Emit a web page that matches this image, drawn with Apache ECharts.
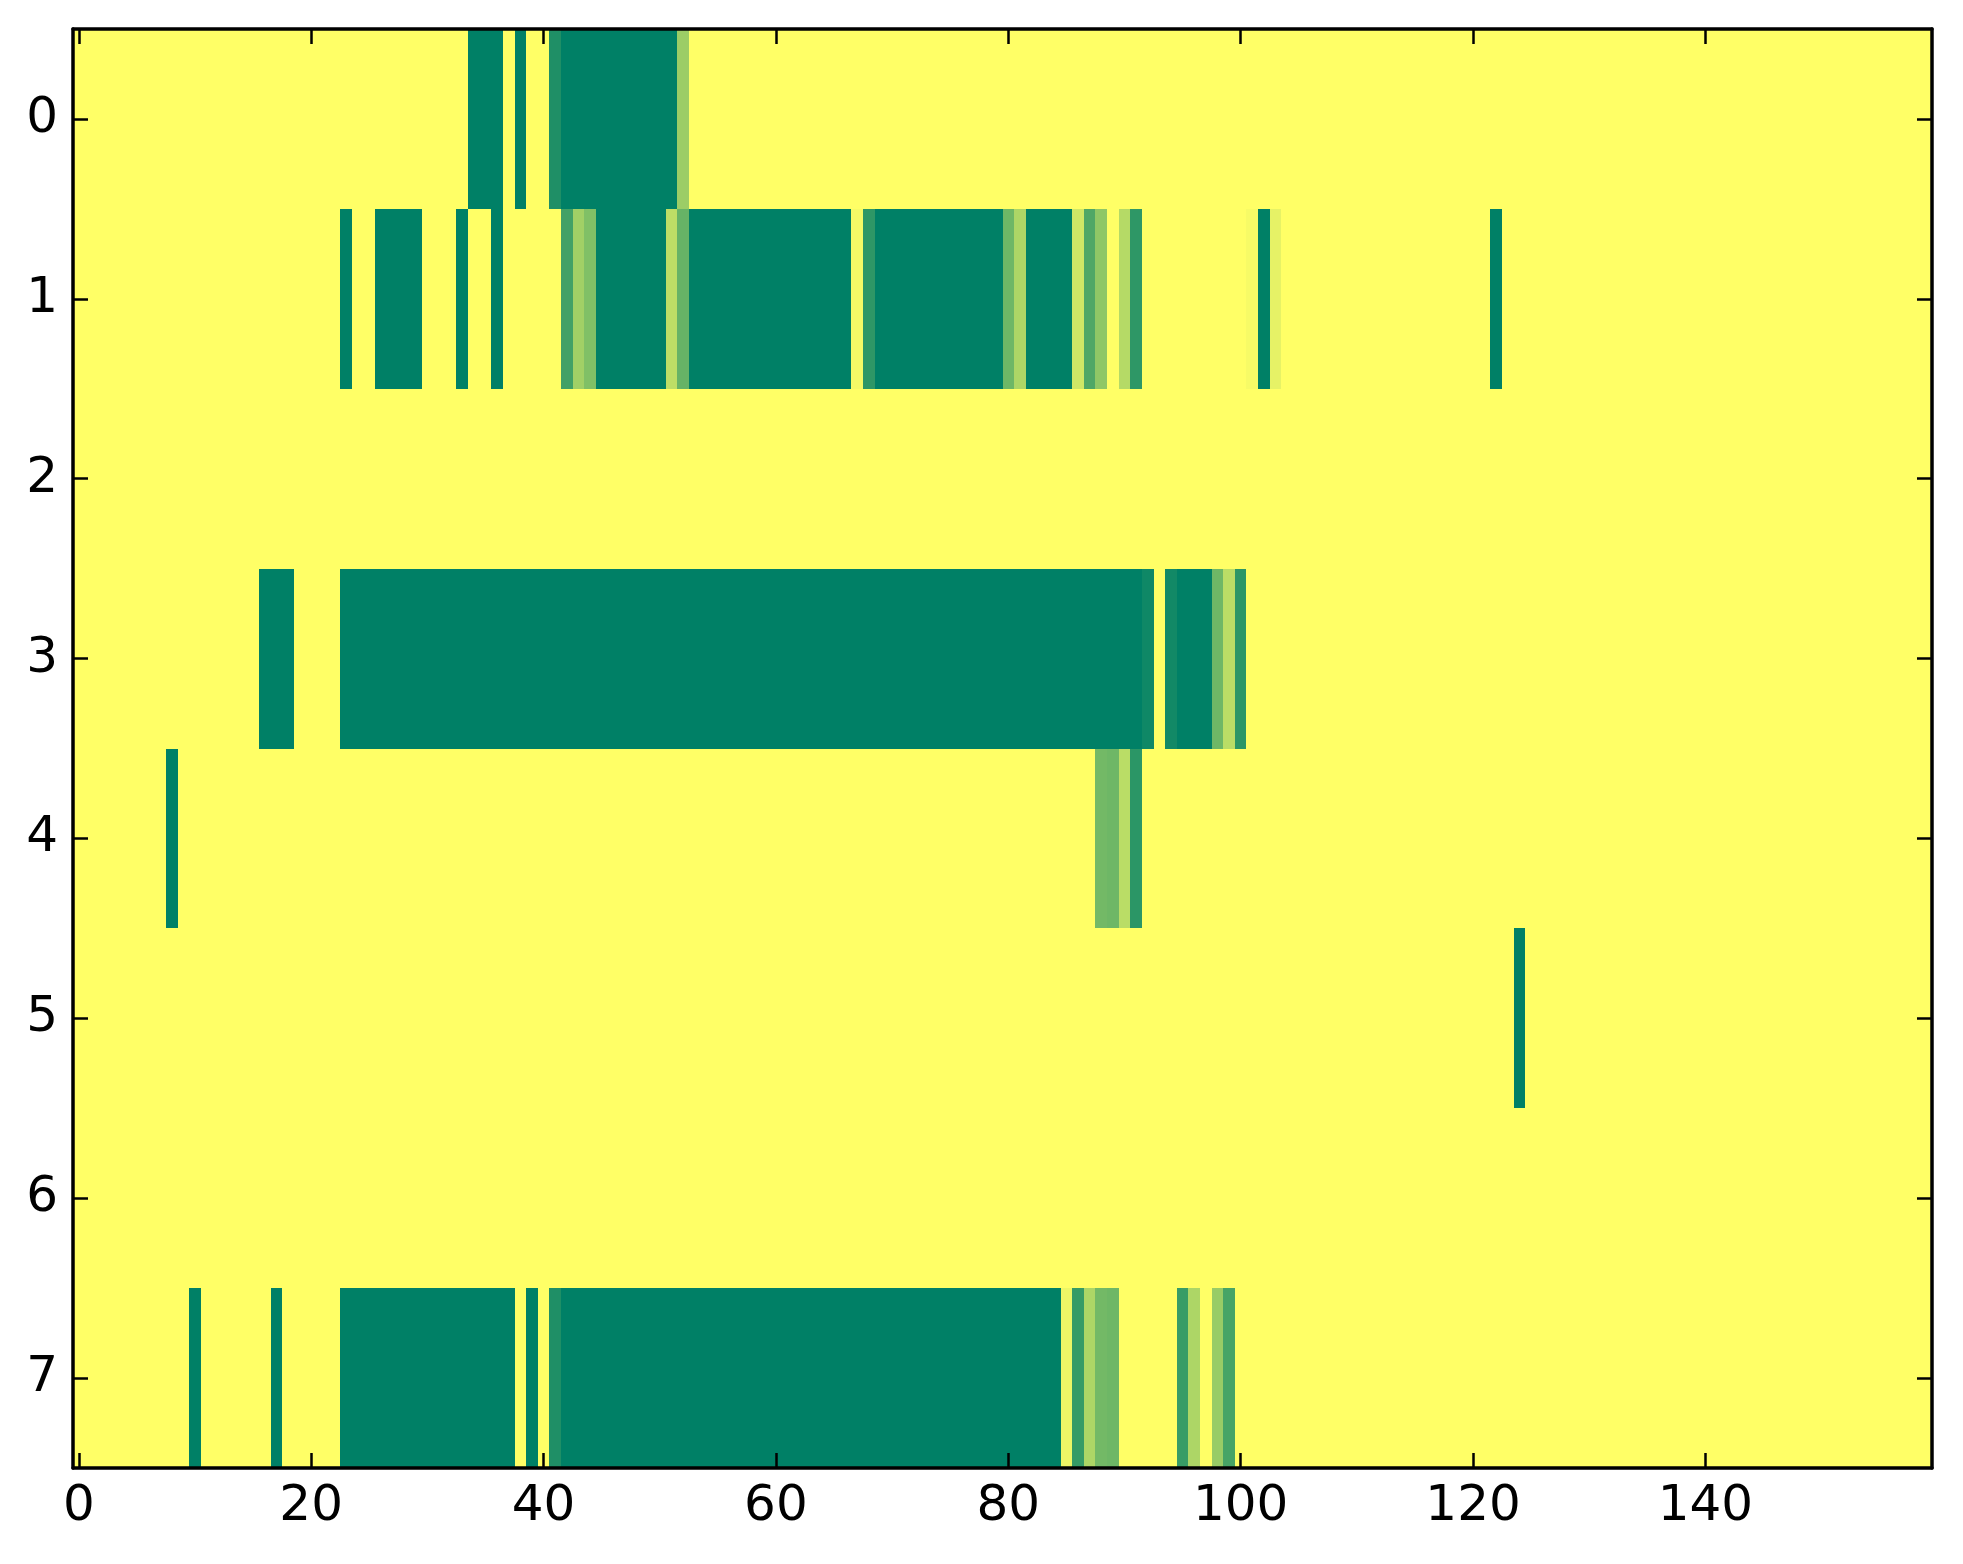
<!DOCTYPE html>
<html>
<head>
<meta charset="utf-8">
<script src="https://cdn.jsdelivr.net/npm/echarts@6/dist/echarts.min.js"></script>
<style>
html,body{margin:0;padding:0;background:#fff;}
#chart{width:1963px;height:1564px;}
</style>
</head>
<body>
<div id="chart"></div>
<script>
// Column categories 0..159 and row categories 0..7
var xCategories = [];
for (var i = 0; i < 160; i++) xCategories.push(String(i));
var yCategories = ['0','1','2','3','4','5','6','7'];

// Cell values per row (0 = green, 1 = yellow), 160 columns each
var row0 = [
1,1,1,1,1,1,1,1,1,1,1,1,1,1,1,1,1,1,1,1,
1,1,1,1,1,1,1,1,1,1,1,1,1,1,0,0,0,1,0,1,
1,0.12,0,0,0,0,0,0,0,0,0,0,0.61,1,1,1,1,1,1,1,
1,1,1,1,1,1,1,1,1,1,1,1,1,1,1,1,1,1,1,1,
1,1,1,1,1,1,1,1,1,1,1,1,1,1,1,1,1,1,1,1,
1,1,1,1,1,1,1,1,1,1,1,1,1,1,1,1,1,1,1,1,
1,1,1,1,1,1,1,1,1,1,1,1,1,1,1,1,1,1,1,1,
1,1,1,1,1,1,1,1,1,1,1,1,1,1,1,1,1,1,1,1
];
var row1 = [
1,1,1,1,1,1,1,1,1,1,1,1,1,1,1,1,1,1,1,1,
1,1,1,0,1,1,0,0,0,0,1,1,1,0,1,1,0,1,1,1,
1,1,0.26,0.63,0.5,0,0,0,0,0,0,0.74,0.4,0,0,0,0,0,0,0,
0,0,0,0,0,0,0,0.96,0.18,0,0,0,0,0,0,0,0,0,0,0,
0.43,0.68,0,0,0,0,0.81,0.31,0.56,1,0.71,0.18,1,1,1,1,1,1,1,1,
1,0.97,0,0.9,1,1,1,1,1,1,1,1,1,1,1,1,1,1,1,1,
1,1,0,1,1,1,1,1,1,1,1,1,1,1,1,1,1,1,1,1,
1,1,1,1,1,1,1,1,1,1,1,1,1,1,1,1,1,1,1,1
];
var row2 = [
1,1,1,1,1,1,1,1,1,1,1,1,1,1,1,1,1,1,1,1,
1,1,1,1,1,1,1,1,1,1,1,1,1,1,1,1,1,1,1,1,
1,1,1,1,1,1,1,1,1,1,1,1,1,1,1,1,1,1,1,1,
1,1,1,1,1,1,1,1,1,1,1,1,1,1,1,1,1,1,1,1,
1,1,1,1,1,1,1,1,1,1,1,1,1,1,1,1,1,1,1,1,
1,1,1,1,1,1,1,1,1,1,1,1,1,1,1,1,1,1,1,1,
1,1,1,1,1,1,1,1,1,1,1,1,1,1,1,1,1,1,1,1,
1,1,1,1,1,1,1,1,1,1,1,1,1,1,1,1,1,1,1,1
];
var row3 = [
1,1,1,1,1,1,1,1,1,1,1,1,1,1,1,1,0,0,0,1,
1,1,1,0,0,0,0,0,0,0,0,0,0,0,0,0,0,0,0,0,
0,0,0,0,0,0,0,0,0,0,0,0,0,0,0,0,0,0,0,0,
0,0,0,0,0,0,0,0,0,0,0,0,0,0,0,0,0,0,0,0,
0,0,0,0,0,0,0,0,0,0,0,0,0.06,1,0.07,0,0,0,0.43,0.73,
0.17,1,1,1,1,1,1,1,1,1,1,1,1,1,1,1,1,1,1,1,
1,1,1,1,1,1,1,1,1,1,1,1,1,1,1,1,1,1,1,1,
1,1,1,1,1,1,1,1,1,1,1,1,1,1,1,1,1,1,1,1
];
var row4 = [
1,1,1,1,1,1,1,1,0,1,1,1,1,1,1,1,1,1,1,1,
1,1,1,1,1,1,1,1,1,1,1,1,1,1,1,1,1,1,1,1,
1,1,1,1,1,1,1,1,1,1,1,1,1,1,1,1,1,1,1,1,
1,1,1,1,1,1,1,1,1,1,1,1,1,1,1,1,1,1,1,1,
1,1,1,1,1,1,1,1,0.45,0.43,0.73,0.17,1,1,1,1,1,1,1,1,
1,1,1,1,1,1,1,1,1,1,1,1,1,1,1,1,1,1,1,1,
1,1,1,1,1,1,1,1,1,1,1,1,1,1,1,1,1,1,1,1,
1,1,1,1,1,1,1,1,1,1,1,1,1,1,1,1,1,1,1,1
];
var row5 = [
1,1,1,1,1,1,1,1,1,1,1,1,1,1,1,1,1,1,1,1,
1,1,1,1,1,1,1,1,1,1,1,1,1,1,1,1,1,1,1,1,
1,1,1,1,1,1,1,1,1,1,1,1,1,1,1,1,1,1,1,1,
1,1,1,1,1,1,1,1,1,1,1,1,1,1,1,1,1,1,1,1,
1,1,1,1,1,1,1,1,1,1,1,1,1,1,1,1,1,1,1,1,
1,1,1,1,1,1,1,1,1,1,1,1,1,1,1,1,1,1,1,1,
1,1,1,1,0,1,1,1,1,1,1,1,1,1,1,1,1,1,1,1,
1,1,1,1,1,1,1,1,1,1,1,1,1,1,1,1,1,1,1,1
];
var row6 = [
1,1,1,1,1,1,1,1,1,1,1,1,1,1,1,1,1,1,1,1,
1,1,1,1,1,1,1,1,1,1,1,1,1,1,1,1,1,1,1,1,
1,1,1,1,1,1,1,1,1,1,1,1,1,1,1,1,1,1,1,1,
1,1,1,1,1,1,1,1,1,1,1,1,1,1,1,1,1,1,1,1,
1,1,1,1,1,1,1,1,1,1,1,1,1,1,1,1,1,1,1,1,
1,1,1,1,1,1,1,1,1,1,1,1,1,1,1,1,1,1,1,1,
1,1,1,1,1,1,1,1,1,1,1,1,1,1,1,1,1,1,1,1,
1,1,1,1,1,1,1,1,1,1,1,1,1,1,1,1,1,1,1,1
];
var row7 = [
1,1,1,1,1,1,1,1,1,1,0,1,1,1,1,1,1,0,1,1,
1,1,1,0,0,0,0,0,0,0,0,0,0,0,0,0,0,0,1,0,
1,0.12,0,0,0,0,0,0,0,0,0,0,0,0,0,0,0,0,0,0,
0,0,0,0,0,0,0,0,0,0,0,0,0,0,0,0,0,0,0,0,
0,0,0,0,0,0.93,0.21,0.68,0.45,0.43,1,1,1,1,1,0.22,0.68,1,0.6,0.28,
1,1,1,1,1,1,1,1,1,1,1,1,1,1,1,1,1,1,1,1,
1,1,1,1,1,1,1,1,1,1,1,1,1,1,1,1,1,1,1,1,
1,1,1,1,1,1,1,1,1,1,1,1,1,1,1,1,1,1,1,1
];
var rows = [row0,row1,row2,row3,row4,row5,row6,row7];

var data = [];
rows.forEach(function (r, y) {
  r.forEach(function (v, x) { data.push([x, y, v]); });
});

var chart = echarts.init(document.getElementById('chart'), null, {renderer: 'canvas'});
var FONT = 'DejaVu Sans';
var lineStyle = {color: '#000', width: 3.5};
var tickStyle = {color: '#000', width: 2.5};

function renderCell(params, api) {
  var c = api.coord([api.value(0), api.value(1)]);
  var s = api.size([1, 1]);
  var x0 = Math.round(c[0] - s[0] / 2), x1 = Math.round(c[0] + s[0] / 2);
  var y0 = Math.round(c[1] - s[1] / 2), y1 = Math.round(c[1] + s[1] / 2);
  return {
    type: 'rect',
    shape: {x: x0, y: y0, width: x1 - x0, height: y1 - y0},
    style: {fill: api.visual('color'), stroke: null}
  };
}

chart.setOption({
  animation: false,
  backgroundColor: '#ffffff',
  grid: {left: 73, right: 31, top: 29, bottom: 96, containLabel: false},
  visualMap: {
    show: false, type: 'continuous', min: 0, max: 1, dimension: 2,
    seriesIndex: 0,
    inRange: {color: ['#008066', '#ffff66']}
  },
  xAxis: [{
    type: 'category', data: xCategories, position: 'bottom', z: 10,
    axisLine: {show: true, lineStyle: lineStyle},
    axisTick: {show: true, inside: true, length: 15, interval: 19, alignWithLabel: true, lineStyle: tickStyle},
    axisLabel: {interval: 19, color: '#000', fontFamily: FONT, fontSize: 50, margin: 14},
    splitLine: {show: false}
  }, {
    type: 'category', data: xCategories, position: 'top', z: 10,
    axisLine: {show: true, lineStyle: lineStyle},
    axisTick: {show: true, inside: true, length: 15, interval: 19, alignWithLabel: true, lineStyle: tickStyle},
    axisLabel: {show: false},
    splitLine: {show: false}
  }],
  yAxis: [{
    type: 'category', data: yCategories, inverse: true, position: 'left', z: 10,
    axisLine: {show: true, lineStyle: lineStyle},
    axisTick: {show: true, inside: true, length: 15, alignWithLabel: true, lineStyle: tickStyle},
    axisLabel: {color: '#000', fontFamily: FONT, fontSize: 50, margin: 15},
    splitLine: {show: false}
  }, {
    type: 'category', data: yCategories, inverse: true, position: 'right', z: 10,
    axisLine: {show: true, lineStyle: lineStyle},
    axisTick: {show: true, inside: true, length: 15, alignWithLabel: true, lineStyle: tickStyle},
    axisLabel: {show: false},
    splitLine: {show: false}
  }],
  series: [{
    type: 'custom', xAxisIndex: 0, yAxisIndex: 0,
    renderItem: renderCell,
    encode: {x: 0, y: 1},
    data: data, progressive: 0,
    silent: true,
    z: 1
  }]
});
</script>
</body>
</html>
